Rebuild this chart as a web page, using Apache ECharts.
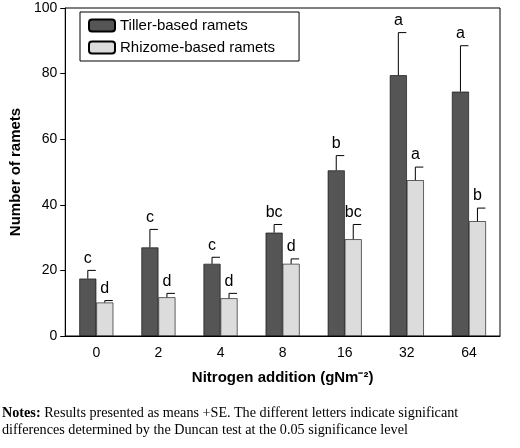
<!DOCTYPE html>
<html><head><meta charset="utf-8">
<script src="https://cdn.jsdelivr.net/npm/echarts@6/dist/echarts.min.js"></script>
<style>body{margin:0;background:#fff}#c{width:520px;height:448px}
#n{position:absolute;left:2px;top:404px;width:516px;font-family:"Liberation Serif",serif;font-size:14.2px;line-height:17px;color:#000}</style>
</head><body><div id="c"></div>
<div id="n"><b>Notes:</b> Results presented as means +SE. The different letters indicate significant differences determined by the Duncan test at the 0.05 significance level</div>
<script>
var categories=['0','2','4','8','16','32','64'];
var tiller=[17.5,27,22,31.5,50.5,79.5,74.5];
var tillerTop=[20,32.5,24,34,55,92.5,88.5];
var tillerLetters=['c','c','c','bc','b','a','a'];
var rhizome=[10.2,11.8,11.5,22,29.5,47.5,35];
var rhizomeTop=[10.8,13,13,23.5,34,51.5,39];
var rhizomeLetters=['d','d','d','d','bc','a','b'];
var chart=echarts.init(document.getElementById('c'));
function errSeries(vals,tops,letters,off){
 return {type:'custom',z:5,data:vals.map(function(v,i){return [i,v,tops[i],letters[i]];}),
 renderItem:function(p,api){
  var b=api.coord([api.value(0),api.value(1)]);var t=api.coord([api.value(0),api.value(2)]);
  var x=b[0]+off;
  return {type:'group',children:[
   {type:'line',shape:{x1:x,y1:b[1],x2:x,y2:t[1]},style:{stroke:'#000',lineWidth:1}},
   {type:'line',shape:{x1:x,y1:t[1],x2:x+8,y2:t[1]},style:{stroke:'#000',lineWidth:1}},
   {type:'text',x:x,y:t[1]-4,style:{text:api.value(3),fill:'#000',font:'16px Liberation Sans',align:'center',verticalAlign:'bottom'}}
  ]};
 }};
}
chart.setOption({
 animation:false,
 grid:{left:62,right:20,top:8,bottom:112,show:true,borderColor:'#000',borderWidth:1},
 legend:{left:80,top:12,orient:'vertical',itemWidth:26,itemHeight:12,itemGap:7,
  borderColor:'#000',borderWidth:1,padding:[6,24,6,8],
  textStyle:{fontSize:15,fontFamily:'Liberation Sans',color:'#000'},
  data:['Tiller-based ramets','Rhizome-based ramets']},
 xAxis:{type:'category',data:categories,
  axisLine:{lineStyle:{color:'#000'}},axisTick:{show:false},
  axisLabel:{color:'#000',fontSize:14,fontFamily:'Liberation Sans',margin:10},
  name:'Nitrogen addition (gNm\u207b\u00b2)',nameLocation:'middle',nameGap:34,
  nameTextStyle:{fontSize:15,fontWeight:'bold',color:'#000',fontFamily:'Liberation Sans'}},
 yAxis:{type:'value',min:0,max:100,interval:20,splitLine:{show:false},
  axisLine:{show:true,lineStyle:{color:'#000'}},axisTick:{show:true,length:5,lineStyle:{color:'#000'}},
  axisLabel:{color:'#000',fontSize:14,fontFamily:'Liberation Sans'},
  name:'Number of ramets',nameLocation:'middle',nameGap:38,
  nameTextStyle:{fontSize:15,fontWeight:'bold',color:'#000',fontFamily:'Liberation Sans'}},
 series:[
  {name:'Tiller-based ramets',type:'bar',data:tiller,barWidth:17,barGap:'0%',
   itemStyle:{color:'#555555',borderColor:'#000',borderWidth:0.6}},
  {name:'Rhizome-based ramets',type:'bar',data:rhizome,barWidth:17,
   itemStyle:{color:'#dcdcdc',borderColor:'#000',borderWidth:0.6}},
  errSeries(tiller,tillerTop,tillerLetters,-8.5),
  errSeries(rhizome,rhizomeTop,rhizomeLetters,8.5)
 ]});
</script></body></html>
